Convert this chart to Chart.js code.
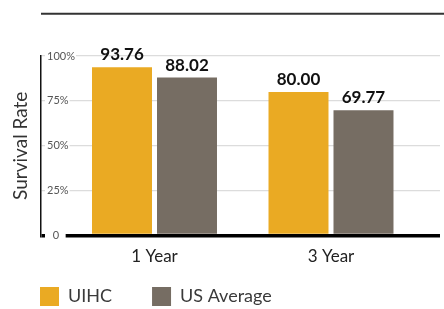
<!DOCTYPE html>
<html>
<head>
<meta charset="utf-8">
<script src="https://cdn.jsdelivr.net/npm/chart.js@4"></script>
<style>
  html, body { margin: 0; padding: 0; background: #fff; }
  #wrap { width: 444px; height: 309px; position: relative; }
</style>
</head>
<body>
<div id="wrap"><canvas id="c"></canvas></div>
<script>
const categories = ['1 Year', '3 Year'];
const uihcValues = [93.76, 80.00];
const usAverageValues = [88.02, 69.77];
const seriesNames = ['UIHC', 'US Average'];
const yTicks = [0, 25, 50, 75, 100];

const YELLOW = '#EAAA23';
const GRAY = '#766D63';

Chart.defaults.font.family = 'Lato';

const decorPlugin = {
  id: 'decor',
  beforeDraw(chart) {
    const ctx = chart.ctx;
    ctx.save();
    ctx.strokeStyle = '#333';
    ctx.lineWidth = 2;
    ctx.beginPath();
    ctx.moveTo(chart.chartArea.left, 13.7);
    ctx.lineTo(chart.width, 13.7);
    ctx.stroke();
    ctx.restore();
  },
  afterDatasetsDraw(chart) {
    const ctx = chart.ctx;
    ctx.save();
    ctx.font = 'bold 17px Lato';
    ctx.fillStyle = '#111';
    ctx.textAlign = 'center';
    ctx.textBaseline = 'alphabetic';
    chart.data.datasets.forEach((ds, di) => {
      const meta = chart.getDatasetMeta(di);
      meta.data.forEach((el, i) => {
        ctx.fillText(ds.data[i].y.toFixed(2), el.x, el.y - 7);
      });
    });
    ctx.restore();
  }
};

new Chart(document.getElementById('c'), {
  type: 'bar',
  data: {
    datasets: [
      {
        label: seriesNames[0],
        data: categories.map((c, i) => ({ x: i, y: uihcValues[i] })),
        backgroundColor: YELLOW,
        borderWidth: 0
      },
      {
        label: seriesNames[1],
        data: categories.map((c, i) => ({ x: i, y: usAverageValues[i] })),
        backgroundColor: GRAY,
        borderWidth: 0
      }
    ]
  },
  options: {
    responsive: true,
    maintainAspectRatio: false,
    animation: false,
    categoryPercentage: 0.7365,
    barPercentage: 0.923,
    layout: { padding: { left: 0, right: 4, top: 56, bottom: -7 } },
    plugins: {
      tooltip: { enabled: false },
      legend: {
        position: 'bottom',
        align: 'start',
        labels: {
          boxWidth: 19,
          boxHeight: 19,
          padding: 40,
          color: '#3a3a3a',
          font: { size: 18, family: 'Lato' }
        }
      }
    },
    scales: {
      x: {
        type: 'linear',
        offset: false,
        min: -0.6431,
        max: 1.6176,
        afterBuildTicks: (scale) => { scale.ticks = categories.map((c, i) => ({ value: i })); },
        afterFit: (scale) => { scale.height = 11.5; },
        grid: { display: false, drawTicks: false, offset: false },
        border: { display: false },
        ticks: {
          mirror: true,
          padding: -31.7,
          autoSkip: false,
          maxRotation: 0,
          color: '#222',
          font: { size: 17, family: 'Lato' },
          callback: (v) => categories[Math.round(v)]
        }
      },
      y: {
        type: 'linear',
        min: 0,
        max: 100,
        afterBuildTicks: (scale) => { scale.ticks = yTicks.map(v => ({ value: v })); },
        afterFit: (scale) => { scale.width = 41; },
        grid: {
          drawTicks: false,
          color: (ctx) => ctx.tick && ctx.tick.value === 0 ? '#000' : '#dcdcdc',
          lineWidth: (ctx) => ctx.tick && ctx.tick.value === 0 ? 3.5 : 1.2
        },
        border: { display: true, color: '#111', width: 1.5 },
        title: {
          display: true,
          text: 'Survival Rate',
          color: '#333',
          font: { size: 19, family: 'Lato' },
          padding: { top: 9, bottom: 0 }
        },
        ticks: {
          mirror: true,
          padding: 6,
          color: '#555',
          font: { size: 11, family: 'Lato' },
          showLabelBackdrop: true,
          backdropColor: '#fff',
          backdropPadding: { left: 2, right: 1, top: 1, bottom: 1 },
          callback: (v) => v === 0 ? '  0  ' : v + '%'
        }
      }
    }
  },
  plugins: [decorPlugin]
});
</script>
</body>
</html>
